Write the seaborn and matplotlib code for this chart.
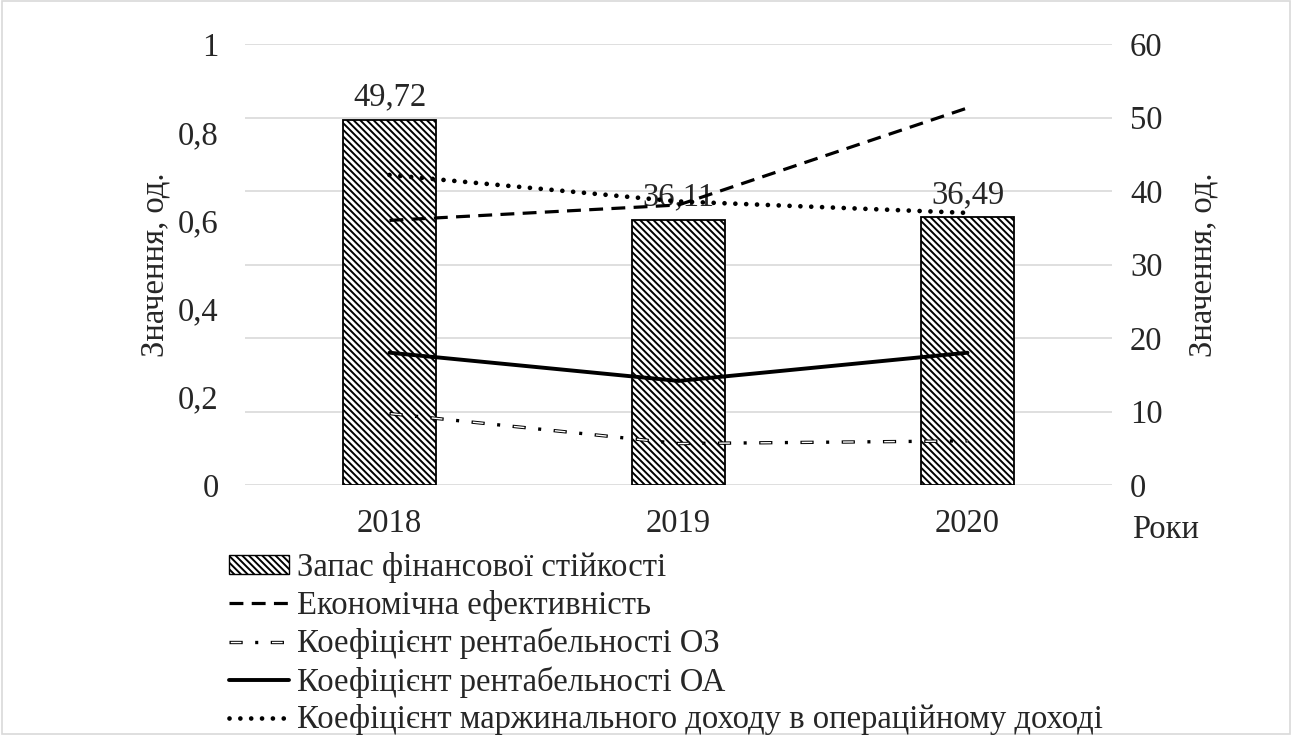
import numpy as np
import pandas as pd
import matplotlib
matplotlib.use("Agg")
import matplotlib.pyplot as plt
import matplotlib.patches as mpatches
from matplotlib.lines import Line2D
import seaborn as sns

years = ["2018", "2019", "2020"]
reserve = [49.72, 36.11, 36.49]          # Запас фінансової стійкості (right axis)
econ_eff = [0.60, 0.635, 0.855]          # Економічна ефективність
rent_oz = [0.162, 0.094, 0.100]          # Коефіцієнт рентабельності ОЗ
rent_oa = [0.300, 0.236, 0.300]          # Коефіцієнт рентабельності ОА
margin = [0.703, 0.643, 0.617]           # Коефіцієнт маржинального доходу

labels = [
    "Запас фінансової стійкості",
    "Економічна ефективність",
    "Коефіцієнт рентабельності ОЗ",
    "Коефіцієнт рентабельності ОА",
    "Коефіцієнт маржинального доходу в операційному доході",
]
left_ticks = [0, 0.2, 0.4, 0.6, 0.8, 1]
right_ticks = [0, 10, 20, 30, 40, 50, 60]

sns.set_style("white")
plt.rcParams["font.family"] = "serif"
plt.rcParams["font.serif"] = ["Liberation Serif", "DejaVu Serif"]
plt.rcParams["lines.scale_dashes"] = False
plt.rcParams["hatch.linewidth"] = 1.4

FS = 23.5
HATCH = "\\" * 5
DASH_EFF = (0, (10, 6))
DASH_OZ = (0, (9.5, 9.0, 2.2, 9.0))
DASH_OZ_IN = (28.8, (7.7, 22.0))
DOTS = (0, (0.01, 7.8))

fig = plt.figure(figsize=(12.92, 7.35), dpi=100)
ax = fig.add_axes([245 / 1292, 1 - 485 / 735, (1112 - 245) / 1292, (485 - 44) / 735])
ax2 = ax.twinx()

df = pd.DataFrame({"year": years, "reserve": reserve})
pos = np.arange(len(years))

# bars on the secondary (right) axis
sns.barplot(data=df, x="year", y="reserve", ax=ax2, color="white", width=0.32,
            edgecolor="black", linewidth=1.3, hatch=HATCH, saturation=1)
ax2.set_ylim(0, 60)
ax2.set_yticks(right_ticks)
ax2.set_yticklabels([str(t) for t in right_ticks], fontsize=FS)
ax2.set_ylabel("Значення, од.", fontsize=FS)
ax2.yaxis.set_label_coords(1.088, 0.5)
ax2.bar_label(ax2.containers[0], labels=[f"{v:.2f}".replace(".", ",") for v in reserve],
              fontsize=FS, padding=5)
ax2.grid(axis="y", color="#d9d9d9", linewidth=1.2)
ax2.set_axisbelow(True)
ax2.set_xlabel("")

# lines on the primary (left) axis, drawn above the bars
ax.set_zorder(ax2.get_zorder() + 1)
ax.patch.set_visible(False)

sns.lineplot(x=pos, y=econ_eff, ax=ax, color="black", linewidth=2.3)
l_eff = ax.lines[-1]
l_eff.set_linestyle(DASH_EFF)
l_eff.set_dash_capstyle("butt")

sns.lineplot(x=pos, y=rent_oz, ax=ax, color="black", linewidth=2.4)
l_oz = ax.lines[-1]
l_oz.set_linestyle(DASH_OZ)
l_oz.set_dash_capstyle("butt")
sns.lineplot(x=pos, y=rent_oz, ax=ax, color="white", linewidth=1.0)
l_oz2 = ax.lines[-1]
l_oz2.set_linestyle(DASH_OZ_IN)
l_oz2.set_dash_capstyle("butt")

sns.lineplot(x=pos, y=rent_oa, ax=ax, color="black", linewidth=2.8)

sns.lineplot(x=pos, y=margin, ax=ax, color="black", linewidth=3.4)
l_mg = ax.lines[-1]
l_mg.set_linestyle(DOTS)
l_mg.set_dash_capstyle("round")

ax.set_ylim(0, 1)
ax.set_yticks(left_ticks)
ax.set_yticklabels([f"{t:g}".replace(".", ",") for t in left_ticks], fontsize=FS)
ax.set_ylabel("Значення, од.", fontsize=FS)
ax.yaxis.set_label_coords(-0.086, 0.5)
ax.set_xlim(-0.5, len(years) - 0.5)
ax.set_xticks(pos)
ax.set_xticklabels(years, fontsize=FS)
ax2.set_xlim(-0.5, len(years) - 0.5)

for a in (ax, ax2):
    for s in a.spines.values():
        s.set_visible(False)
    a.tick_params(length=0)
ax.tick_params(axis="y", pad=19)
ax.tick_params(axis="x", pad=17)
ax2.tick_params(axis="y", pad=13)

fig.text(1166 / 1292, 1 - 530 / 735, "Роки", fontsize=FS, ha="center", va="center")

# legend below the plot
h_bar = mpatches.Patch(facecolor="white", edgecolor="black", hatch=HATCH, linewidth=1.0)
h_eff = Line2D([], [], color="black", linewidth=2.3, linestyle=DASH_EFF, dash_capstyle="butt")
h_oz1 = Line2D([], [], color="black", linewidth=2.4, linestyle=DASH_OZ, dash_capstyle="butt")
h_oz2 = Line2D([], [], color="white", linewidth=1.0, linestyle=DASH_OZ_IN, dash_capstyle="butt")
h_oa = Line2D([], [], color="black", linewidth=2.8)
h_mg = Line2D([], [], color="black", linewidth=3.4, linestyle=DOTS, dash_capstyle="round")

fig.legend([h_bar, h_eff, (h_oz1, h_oz2), h_oa, h_mg], labels,
           loc="upper left", bbox_to_anchor=(229 / 1292, 1 - 552 / 735),
           frameon=False, fontsize=FS, handlelength=1.84, handleheight=0.5,
           handletextpad=0.25, labelspacing=0.21, borderpad=0, borderaxespad=0)

fig.add_artist(mpatches.Rectangle((0.0015, 0.002), 0.997, 0.996, transform=fig.transFigure,
                                  fill=False, edgecolor="#d9d9d9", linewidth=1.2))

fig.savefig("out.png", dpi=100)
